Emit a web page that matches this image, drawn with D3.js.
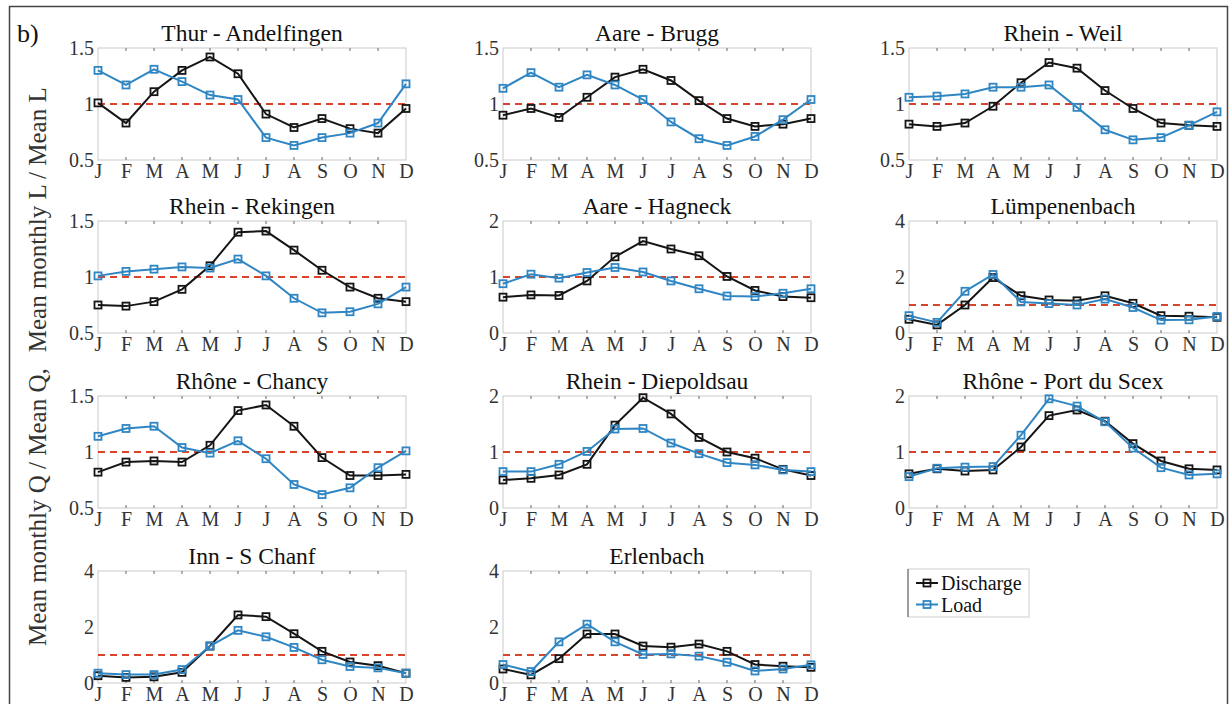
<!DOCTYPE html>
<html><head><meta charset="utf-8">
<script src="https://cdn.jsdelivr.net/npm/d3@7"></script>
<style>body{margin:0;background:#fff}svg{display:block}svg text{font-family:"Liberation Serif","Times New Roman",serif !important;font-weight:normal}</style>
</head><body><svg id="c" width="1231" height="704"></svg>
<script>
const months = ["J","F","M","A","M","J","J","A","S","O","N","D"];
const seriesNames = ["Discharge","Load"];

const titles = ["Thur - Andelfingen","Aare - Brugg","Rhein - Weil",
  "Rhein - Rekingen","Aare - Hagneck","Lümpenenbach",
  "Rhône - Chancy","Rhein - Diepoldsau","Rhône - Port du Scex",
  "Inn - S Chanf","Erlenbach"];

const yDomains = [[0.5,1.5],[0.5,1.5],[0.5,1.5],[0.5,1.5],[0,2],[0,4],[0.5,1.5],[0,2],[0,2],[0,4],[0,4]];
const yTicks = [[0.5,1,1.5],[0.5,1,1.5],[0.5,1,1.5],[0.5,1,1.5],[0,1,2],[0,2,4],[0.5,1,1.5],[0,1,2],[0,1,2],[0,2,4],[0,2,4]];

const thurQ = [1.01,0.83,1.11,1.30,1.42,1.27,0.91,0.79,0.87,0.78,0.74,0.96];
const thurL = [1.30,1.17,1.31,1.20,1.08,1.04,0.70,0.63,0.70,0.74,0.83,1.18];
const bruggQ = [0.90,0.96,0.88,1.06,1.24,1.31,1.21,1.03,0.87,0.80,0.82,0.87];
const bruggL = [1.14,1.28,1.15,1.26,1.17,1.04,0.84,0.69,0.63,0.71,0.86,1.04];
const weilQ = [0.82,0.80,0.83,0.98,1.19,1.37,1.32,1.12,0.96,0.83,0.81,0.80];
const weilL = [1.06,1.07,1.09,1.15,1.15,1.17,0.97,0.77,0.68,0.70,0.81,0.93];
const rekingenQ = [0.75,0.74,0.78,0.89,1.10,1.40,1.41,1.24,1.06,0.91,0.81,0.78];
const rekingenL = [1.01,1.05,1.07,1.09,1.08,1.16,1.01,0.81,0.68,0.69,0.76,0.91];
const hagneckQ = [0.64,0.68,0.67,0.93,1.36,1.64,1.50,1.38,1.01,0.76,0.65,0.63];
const hagneckL = [0.88,1.05,0.98,1.08,1.17,1.09,0.93,0.79,0.66,0.65,0.71,0.79];
const luempQ = [0.49,0.29,1.00,1.98,1.33,1.18,1.15,1.33,1.06,0.62,0.60,0.56];
const luempL = [0.62,0.38,1.49,2.09,1.11,1.05,1.00,1.21,0.91,0.46,0.47,0.59];
const chancyQ = [0.82,0.91,0.92,0.91,1.06,1.37,1.42,1.23,0.95,0.79,0.79,0.80];
const chancyL = [1.14,1.21,1.23,1.04,0.99,1.10,0.94,0.71,0.62,0.68,0.86,1.01];
const diepQ = [0.50,0.53,0.59,0.78,1.48,1.97,1.68,1.26,1.00,0.89,0.69,0.58];
const diepL = [0.65,0.65,0.78,1.01,1.41,1.42,1.16,0.97,0.81,0.77,0.68,0.65];
const scexQ = [0.61,0.70,0.66,0.68,1.09,1.65,1.75,1.55,1.15,0.84,0.70,0.68];
const scexL = [0.56,0.71,0.73,0.74,1.30,1.95,1.82,1.54,1.07,0.72,0.59,0.61];
const innQ = [0.26,0.20,0.22,0.38,1.32,2.43,2.37,1.76,1.13,0.75,0.62,0.35];
const innL = [0.35,0.30,0.30,0.48,1.32,1.88,1.65,1.27,0.83,0.59,0.54,0.35];
const erlenQ = [0.50,0.29,0.87,1.75,1.75,1.32,1.28,1.39,1.13,0.66,0.60,0.56];
const erlenL = [0.66,0.41,1.47,2.10,1.47,1.02,1.04,0.96,0.74,0.43,0.50,0.65];

const dischargeSeries = [thurQ,bruggQ,weilQ,rekingenQ,hagneckQ,luempQ,chancyQ,diepQ,scexQ,innQ,erlenQ];
const loadSeries = [thurL,bruggL,weilL,rekingenL,hagneckL,luempL,chancyL,diepL,scexL,innL,erlenL];

const colors = {Discharge:"#151515", Load:"#2f86c3"};
const refColor = "#d8432a";

const svg = d3.select("#c");

svg.append("rect").attr("x",9.5).attr("y",6.5).attr("width",1218).attr("height",720)
  .attr("fill","none").attr("stroke","#444").attr("stroke-width",1.5);

svg.append("text").attr("x",17).attr("y",42).attr("font-size",26).attr("fill","#111").text("b)");

const yl = svg.append("text")
  .attr("transform","translate(46,646) rotate(-90)")
  .attr("text-anchor","start").attr("font-size",25).attr("fill","#333");
yl.append("tspan").text("Mean monthly Q / Mean Q,");
yl.append("tspan").attr("dx",16).text("Mean monthly L / Mean L");

const colX = [98, 503, 909];
const rowY = [48, 221, 396, 571];
const W = 308, H = 112;

titles.forEach((title, i) => {
  const r = Math.floor(i/3), c = i%3;
  const g = svg.append("g").attr("transform",`translate(${colX[c]},${rowY[r]})`);
  const x = d3.scalePoint().domain(d3.range(12)).range([0,W]);
  const y = d3.scaleLinear().domain(yDomains[i]).range([H,0]);

  g.append("rect").attr("width",W).attr("height",H).attr("fill","#fff")
    .attr("stroke","#c9c9c9").attr("stroke-width",1);

  g.selectAll(".tt").data(d3.range(1,11)).join("line")
    .attr("x1",d=>x(d)).attr("x2",d=>x(d)).attr("y1",0).attr("y2",3)
    .attr("stroke","#666").attr("stroke-width",1);
  g.selectAll(".tb").data(d3.range(1,11)).join("line")
    .attr("x1",d=>x(d)).attr("x2",d=>x(d)).attr("y1",H).attr("y2",H-3)
    .attr("stroke","#666").attr("stroke-width",1);

  const xa = g.append("g").attr("transform",`translate(0,${H})`)
    .call(d3.axisBottom(x).tickSize(0).tickPadding(2).tickFormat(d=>months[d]));
  xa.attr("font-family",null).attr("font-size",null);
  xa.select(".domain").remove();
  xa.selectAll("text").attr("font-size",20).attr("fill","#333").attr("dy","0.78em");

  const ya = g.append("g")
    .call(d3.axisLeft(y).tickValues(yTicks[i]).tickSize(0).tickPadding(4).tickFormat(d3.format("")));
  ya.attr("font-family",null).attr("font-size",null);
  ya.select(".domain").remove();
  ya.selectAll("text").attr("font-size",20).attr("fill","#333");

  g.append("text").attr("x",W/2).attr("y",-7).attr("text-anchor","middle")
    .attr("font-size",23.5).attr("fill","#111").text(title);

  g.append("line").attr("x1",0).attr("x2",W).attr("y1",y(1)).attr("y2",y(1))
    .attr("stroke",refColor).attr("stroke-width",2).attr("stroke-dasharray","7,5");

  const line = d3.line().x((d,j)=>x(j)).y(d=>y(d));
  [["Discharge",dischargeSeries[i]],["Load",loadSeries[i]]].forEach(([name,vals])=>{
    g.append("path").datum(vals).attr("d",line).attr("fill","none")
      .attr("stroke",colors[name]).attr("stroke-width",2);
    g.selectAll(null).data(vals).join("rect")
      .attr("x",(d,j)=>x(j)-3.5).attr("y",d=>y(d)-3.5).attr("width",7).attr("height",7)
      .attr("fill","none").attr("stroke",colors[name]).attr("stroke-width",1.8);
  });
});

const lg = svg.append("g").attr("transform","translate(908,569)");
lg.append("rect").attr("width",121).attr("height",48).attr("fill","#fff")
  .attr("stroke","#cfcfcf").attr("stroke-width",1);
lg.append("line").attr("x1",0).attr("x2",0).attr("y1",0).attr("y2",48).attr("stroke","#555");
seriesNames.forEach((name,k)=>{
  const yy = 14 + k*21.5;
  lg.append("line").attr("x1",8).attr("x2",30).attr("y1",yy).attr("y2",yy)
    .attr("stroke",colors[name]).attr("stroke-width",2);
  lg.append("rect").attr("x",15.5).attr("y",yy-3.5).attr("width",7).attr("height",7)
    .attr("fill","none").attr("stroke",colors[name]).attr("stroke-width",1.8);
  lg.append("text").attr("x",33).attr("y",yy).attr("dy","0.35em").attr("font-size",20)
    .attr("fill","#111").text(name);
});
</script></body></html>
